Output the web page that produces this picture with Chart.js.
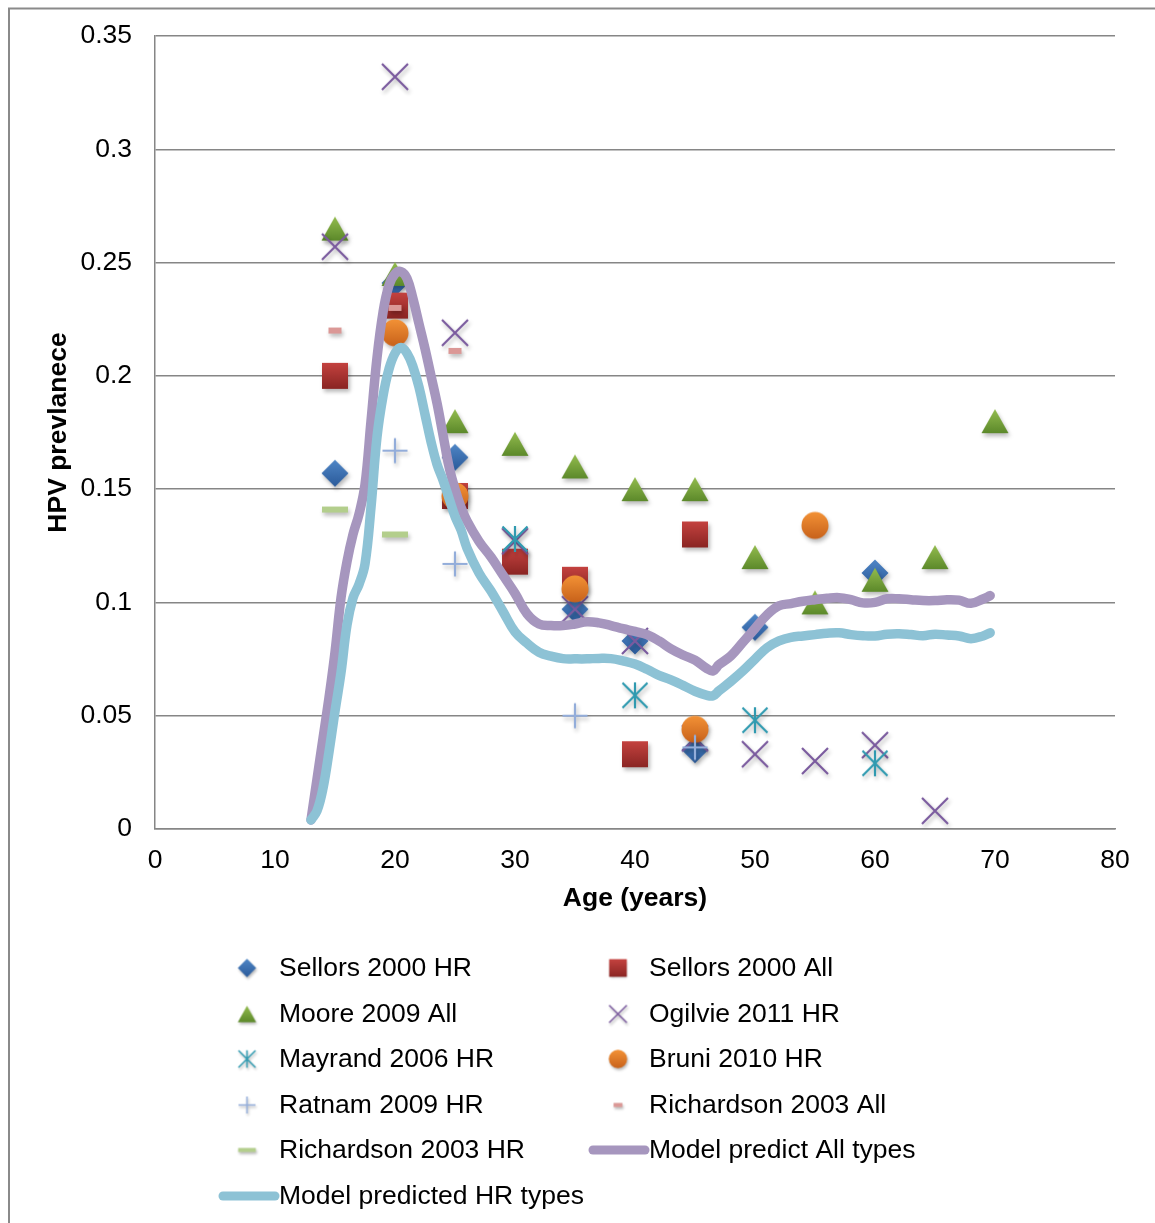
<!DOCTYPE html>
<html><head><meta charset="utf-8">
<script src="https://cdn.jsdelivr.net/npm/chart.js@4.4.0/dist/chart.umd.min.js"></script>
<style>html,body{margin:0;padding:0;background:#fff;}canvas{display:block;}</style>
</head><body>
<canvas id="c" width="1155" height="1223"></canvas>
<script>
// ---------- data ----------
const xTickLabels = ['0','10','20','30','40','50','60','70','80'];
const yTickLabels = ['0','0.05','0.1','0.15','0.2','0.25','0.3','0.35'];

const sellorsHRAges = [15,20,25,35,40,45,50,60];
const sellorsHRVals = [0.157,0.241,0.164,0.097,0.083,0.035,0.089,0.113];
const sellorsAllAges = [15,20,25,30,35,40,45];
const sellorsAllVals = [0.200,0.231,0.147,0.118,0.110,0.033,0.130];
const mooreAges = [15,20,25,30,35,40,45,50,55,60,65,70];
const mooreVals = [0.265,0.245,0.180,0.170,0.160,0.150,0.150,0.120,0.100,0.110,0.120,0.180];
const ogilvieAges = [15,20,25,30,35,40,45,50,55,60,65];
const ogilvieVals = [0.257,0.332,0.219,0.127,0.097,0.083,0.040,0.033,0.030,0.037,0.008];
const mayrandAges = [30,40,50,60];
const mayrandVals = [0.128,0.059,0.048,0.029];
const bruniAges = [20,25,35,45,55];
const bruniVals = [0.219,0.147,0.106,0.044,0.134];
const ratnamAges = [20,25,35,45];
const ratnamVals = [0.167,0.117,0.050,0.036];
const richAllAges = [15,20,25];
const richAllVals = [0.220,0.230,0.211];
const richHRAges = [15,20];
const richHRVals = [0.141,0.130];

const modelAges = [13,13.5,14,14.5,15,15.5,16,16.5,17,17.5,18,18.5,19,19.5,20,20.5,21,21.5,22,22.5,23,23.5,24,24.5,25,25.5,26,27,28,29,30,31,32,33,34,35,36,37,38,39,40,41,42,43,44,45,46,46.5,47,48,49,50,51,52,53,54,55,56,57,58,59,60,61,62,63,64,65,66,67,68,69,69.6];
const modelAll = [0.004,0.022,0.040,0.058,0.078,0.102,0.118,0.130,0.139,0.152,0.180,0.208,0.228,0.240,0.245,0.246,0.243,0.234,0.223,0.212,0.200,0.188,0.174,0.160,0.150,0.142,0.136,0.127,0.120,0.112,0.104,0.095,0.0905,0.0898,0.0898,0.0905,0.0915,0.0910,0.0898,0.0884,0.0872,0.0858,0.0830,0.0795,0.0768,0.0745,0.0708,0.0698,0.0725,0.0765,0.0825,0.0885,0.0945,0.0985,0.0995,0.1005,0.1012,0.1018,0.1021,0.1012,0.0998,0.1000,0.1016,0.1016,0.1012,0.1008,0.1008,0.1012,0.1010,0.0996,0.1015,0.1030];
const modelHR = [0.004,0.008,0.018,0.034,0.052,0.069,0.090,0.102,0.108,0.117,0.142,0.173,0.191,0.203,0.210,0.2125,0.210,0.204,0.195,0.183,0.171,0.161,0.154,0.146,0.138,0.132,0.124,0.113,0.105,0.096,0.087,0.082,0.078,0.0763,0.0752,0.0751,0.0751,0.0753,0.0752,0.0742,0.0728,0.0705,0.0678,0.0658,0.0634,0.0608,0.0590,0.0588,0.0610,0.0652,0.0698,0.0750,0.0800,0.0830,0.0846,0.0852,0.0858,0.0864,0.0866,0.0858,0.0853,0.0852,0.0860,0.0862,0.0858,0.0853,0.0860,0.0856,0.0852,0.0840,0.0852,0.0866];

const seriesNames = ['Sellors 2000 HR','Sellors 2000 All','Moore 2009 All','Ogilvie 2011 HR','Mayrand 2006 HR','Bruni 2010 HR','Ratnam 2009 HR','Richardson 2003 All','Richardson 2003 HR','Model predict All types','Model predicted HR types'];

// ---------- styling helpers ----------
const FONT = '"Liberation Sans", Arial, sans-serif';
const ALL_COLOR = '#A696BE';
const HR_COLOR = '#8DC2D5';

function makeMarker(kind, s) {
  const size = Math.ceil(48 * s);
  const c = document.createElement('canvas');
  c.width = size; c.height = size;
  const g = c.getContext('2d');
  g.translate(size / 2, size / 2);
  g.scale(s, s);
  g.shadowColor = 'rgba(0,0,0,0.28)';
  g.shadowBlur = 4 * s; g.shadowOffsetX = 1.5 * s; g.shadowOffsetY = 3 * s;
  function grad(a, b, h) { const gr = g.createLinearGradient(0, -h, 0, h); gr.addColorStop(0, a); gr.addColorStop(1, b); return gr; }
  function stroke(color, segs) {
    g.strokeStyle = color; g.lineWidth = 2.2; g.lineCap = 'butt';
    g.beginPath();
    segs.forEach(q => { g.moveTo(q[0], q[1]); g.lineTo(q[2], q[3]); });
    g.stroke();
  }
  if (kind === 'diamond') {
    g.fillStyle = grad('#4F86C6', '#2A5A9A', 13.5);
    g.beginPath(); g.moveTo(0, -13.5); g.lineTo(13.5, 0); g.lineTo(0, 13.5); g.lineTo(-13.5, 0); g.closePath(); g.fill();
  } else if (kind === 'square') {
    g.fillStyle = grad('#C4423F', '#8A2523', 13);
    g.fillRect(-13, -13, 26, 26);
  } else if (kind === 'triangle') {
    g.fillStyle = grad('#93BC4E', '#5C892A', 12);
    g.beginPath(); g.moveTo(0, -12); g.lineTo(13.5, 12); g.lineTo(-13.5, 12); g.closePath(); g.fill();
  } else if (kind === 'x') {
    stroke('#7A5A9E', [[-13,-13,13,13],[13,-13,-13,13]]);
  } else if (kind === 'asterisk') {
    stroke('#2F9AB0', [[-12.5,-12.5,12.5,12.5],[12.5,-12.5,-12.5,12.5],[0,-13,0,13]]);
  } else if (kind === 'circle') {
    g.fillStyle = grad('#F39236', '#C8621B', 13.5);
    g.beginPath(); g.arc(0, 0, 13.5, 0, Math.PI * 2); g.fill();
  } else if (kind === 'plus') {
    stroke('#93ADDA', [[-12.5,0,12.5,0],[0,-12.5,0,12.5]]);
  } else if (kind === 'pinkdash') {
    g.fillStyle = '#DB9896'; g.fillRect(-6.5, -3, 13, 6);
  } else if (kind === 'greendash') {
    g.fillStyle = '#B3CE8C'; g.fillRect(-13, -3, 26, 6);
  }
  return c;
}

const markerKinds = ['diamond','square','triangle','x','asterisk','circle','plus','pinkdash','greendash'];
const plotMarkers = markerKinds.map(k => makeMarker(k, 1));
const legendMarkers = markerKinds.map(k => makeMarker(k, 0.68));

function pts(xs, ys) { return xs.map((x, i) => ({x: x, y: ys[i]})); }

const scatterSets = [
  [sellorsHRAges, sellorsHRVals],
  [sellorsAllAges, sellorsAllVals],
  [mooreAges, mooreVals],
  [ogilvieAges, ogilvieVals],
  [mayrandAges, mayrandVals],
  [bruniAges, bruniVals],
  [ratnamAges, ratnamVals],
  [richAllAges, richAllVals],
  [richHRAges, richHRVals]
];

const datasets = scatterSets.map((s, i) => ({
  label: seriesNames[i],
  data: pts(s[0], s[1]),
  showLine: false,
  pointStyle: plotMarkers[i],
  pointRadius: 14,
  order: 20 - i
}));
datasets.push({
  label: seriesNames[9], data: pts(modelAges, modelAll), showLine: true,
  borderColor: ALL_COLOR, backgroundColor: ALL_COLOR, borderWidth: 9.5, pointRadius: 0,
  borderCapStyle: 'round', borderJoinStyle: 'round', tension: 0.4, order: 2
});
datasets.push({
  label: seriesNames[10], data: pts(modelAges, modelHR), showLine: true,
  borderColor: HR_COLOR, backgroundColor: HR_COLOR, borderWidth: 9.5, pointRadius: 0,
  borderCapStyle: 'round', borderJoinStyle: 'round', tension: 0.4, order: 1
});

// ---------- plugins ----------
const frameAndLegend = {
  id: 'frameAndLegend',
  beforeDraw(chart) {
    const ctx = chart.ctx;
    ctx.save();
    ctx.fillStyle = '#fff'; ctx.fillRect(0, 0, chart.width, chart.height);
    ctx.strokeStyle = '#8a8a8a'; ctx.lineWidth = 2;
    ctx.beginPath(); ctx.moveTo(9, chart.height + 5); ctx.lineTo(9, 8.5); ctx.lineTo(chart.width + 5, 8.5); ctx.stroke();
    ctx.restore();
  },
  afterDraw(chart) {
    const ctx = chart.ctx;
    ctx.save();
    ctx.font = '26.5px ' + FONT;
    ctx.fillStyle = '#000';
    ctx.textBaseline = 'middle';
    ctx.textAlign = 'left';
    const rowY = [969, 1015, 1060, 1106, 1151, 1197];
    const colMarkX = [247, 618];
    const colTextX = [279, 649];
    seriesNames.forEach((name, i) => {
      const r = Math.floor(i / 2), col = i % 2;
      const y = rowY[r];
      if (i < 9) {
        const img = legendMarkers[i];
        ctx.drawImage(img, colMarkX[col] - img.width / 2, y - 1 - img.height / 2);
      } else {
        ctx.strokeStyle = i === 9 ? ALL_COLOR : HR_COLOR;
        ctx.lineWidth = 9; ctx.lineCap = 'round';
        ctx.beginPath();
        ctx.moveTo(colTextX[col] - 56, y - 1); ctx.lineTo(colTextX[col] - 4, y - 1);
        ctx.stroke();
      }
      ctx.fillText(name, colTextX[col], y);
    });
    ctx.restore();
  }
};

Chart.defaults.font.family = FONT;
Chart.defaults.color = '#000';

new Chart(document.getElementById('c'), {
  type: 'scatter',
  data: { datasets: datasets },
  options: {
    responsive: false,
    animation: false,
    devicePixelRatio: 1,
    layout: { padding: { left: 0, top: 36, right: 40, bottom: 294 } },
    plugins: { legend: { display: false }, tooltip: { enabled: false } },
    scales: {
      x: {
        type: 'linear', min: 0, max: 80,
        ticks: { stepSize: 10, padding: 16, font: { size: 26.5 }, color: '#000', maxRotation: 0,
          callback: (v, i) => xTickLabels[i] },
        grid: { display: false, drawTicks: false },
        border: { display: true, color: '#868686', width: 1.5 },
        title: { display: true, text: 'Age (years)', font: { size: 26.5, weight: 'bold' }, color: '#000', padding: { top: 0, bottom: 14 } },
        afterFit: s => { s.height = 100; }
      },
      y: {
        type: 'linear', min: 0, max: 0.35,
        ticks: { stepSize: 0.05, padding: 23, font: { size: 26.5 }, color: '#000',
          callback: (v, i) => yTickLabels[i] },
        grid: { color: '#868686', lineWidth: 1.5, drawTicks: false },
        border: { display: true, color: '#868686', width: 1.5 },
        title: { display: true, text: 'HPV prevlanece', font: { size: 26.5, weight: 'bold' }, color: '#000', padding: { top: 43, bottom: 0 } },
        afterFit: s => { s.width = 155; s.paddingTop = 0; s.paddingBottom = 0; }
      }
    }
  },
  plugins: [frameAndLegend]
});
</script>
</body></html>
